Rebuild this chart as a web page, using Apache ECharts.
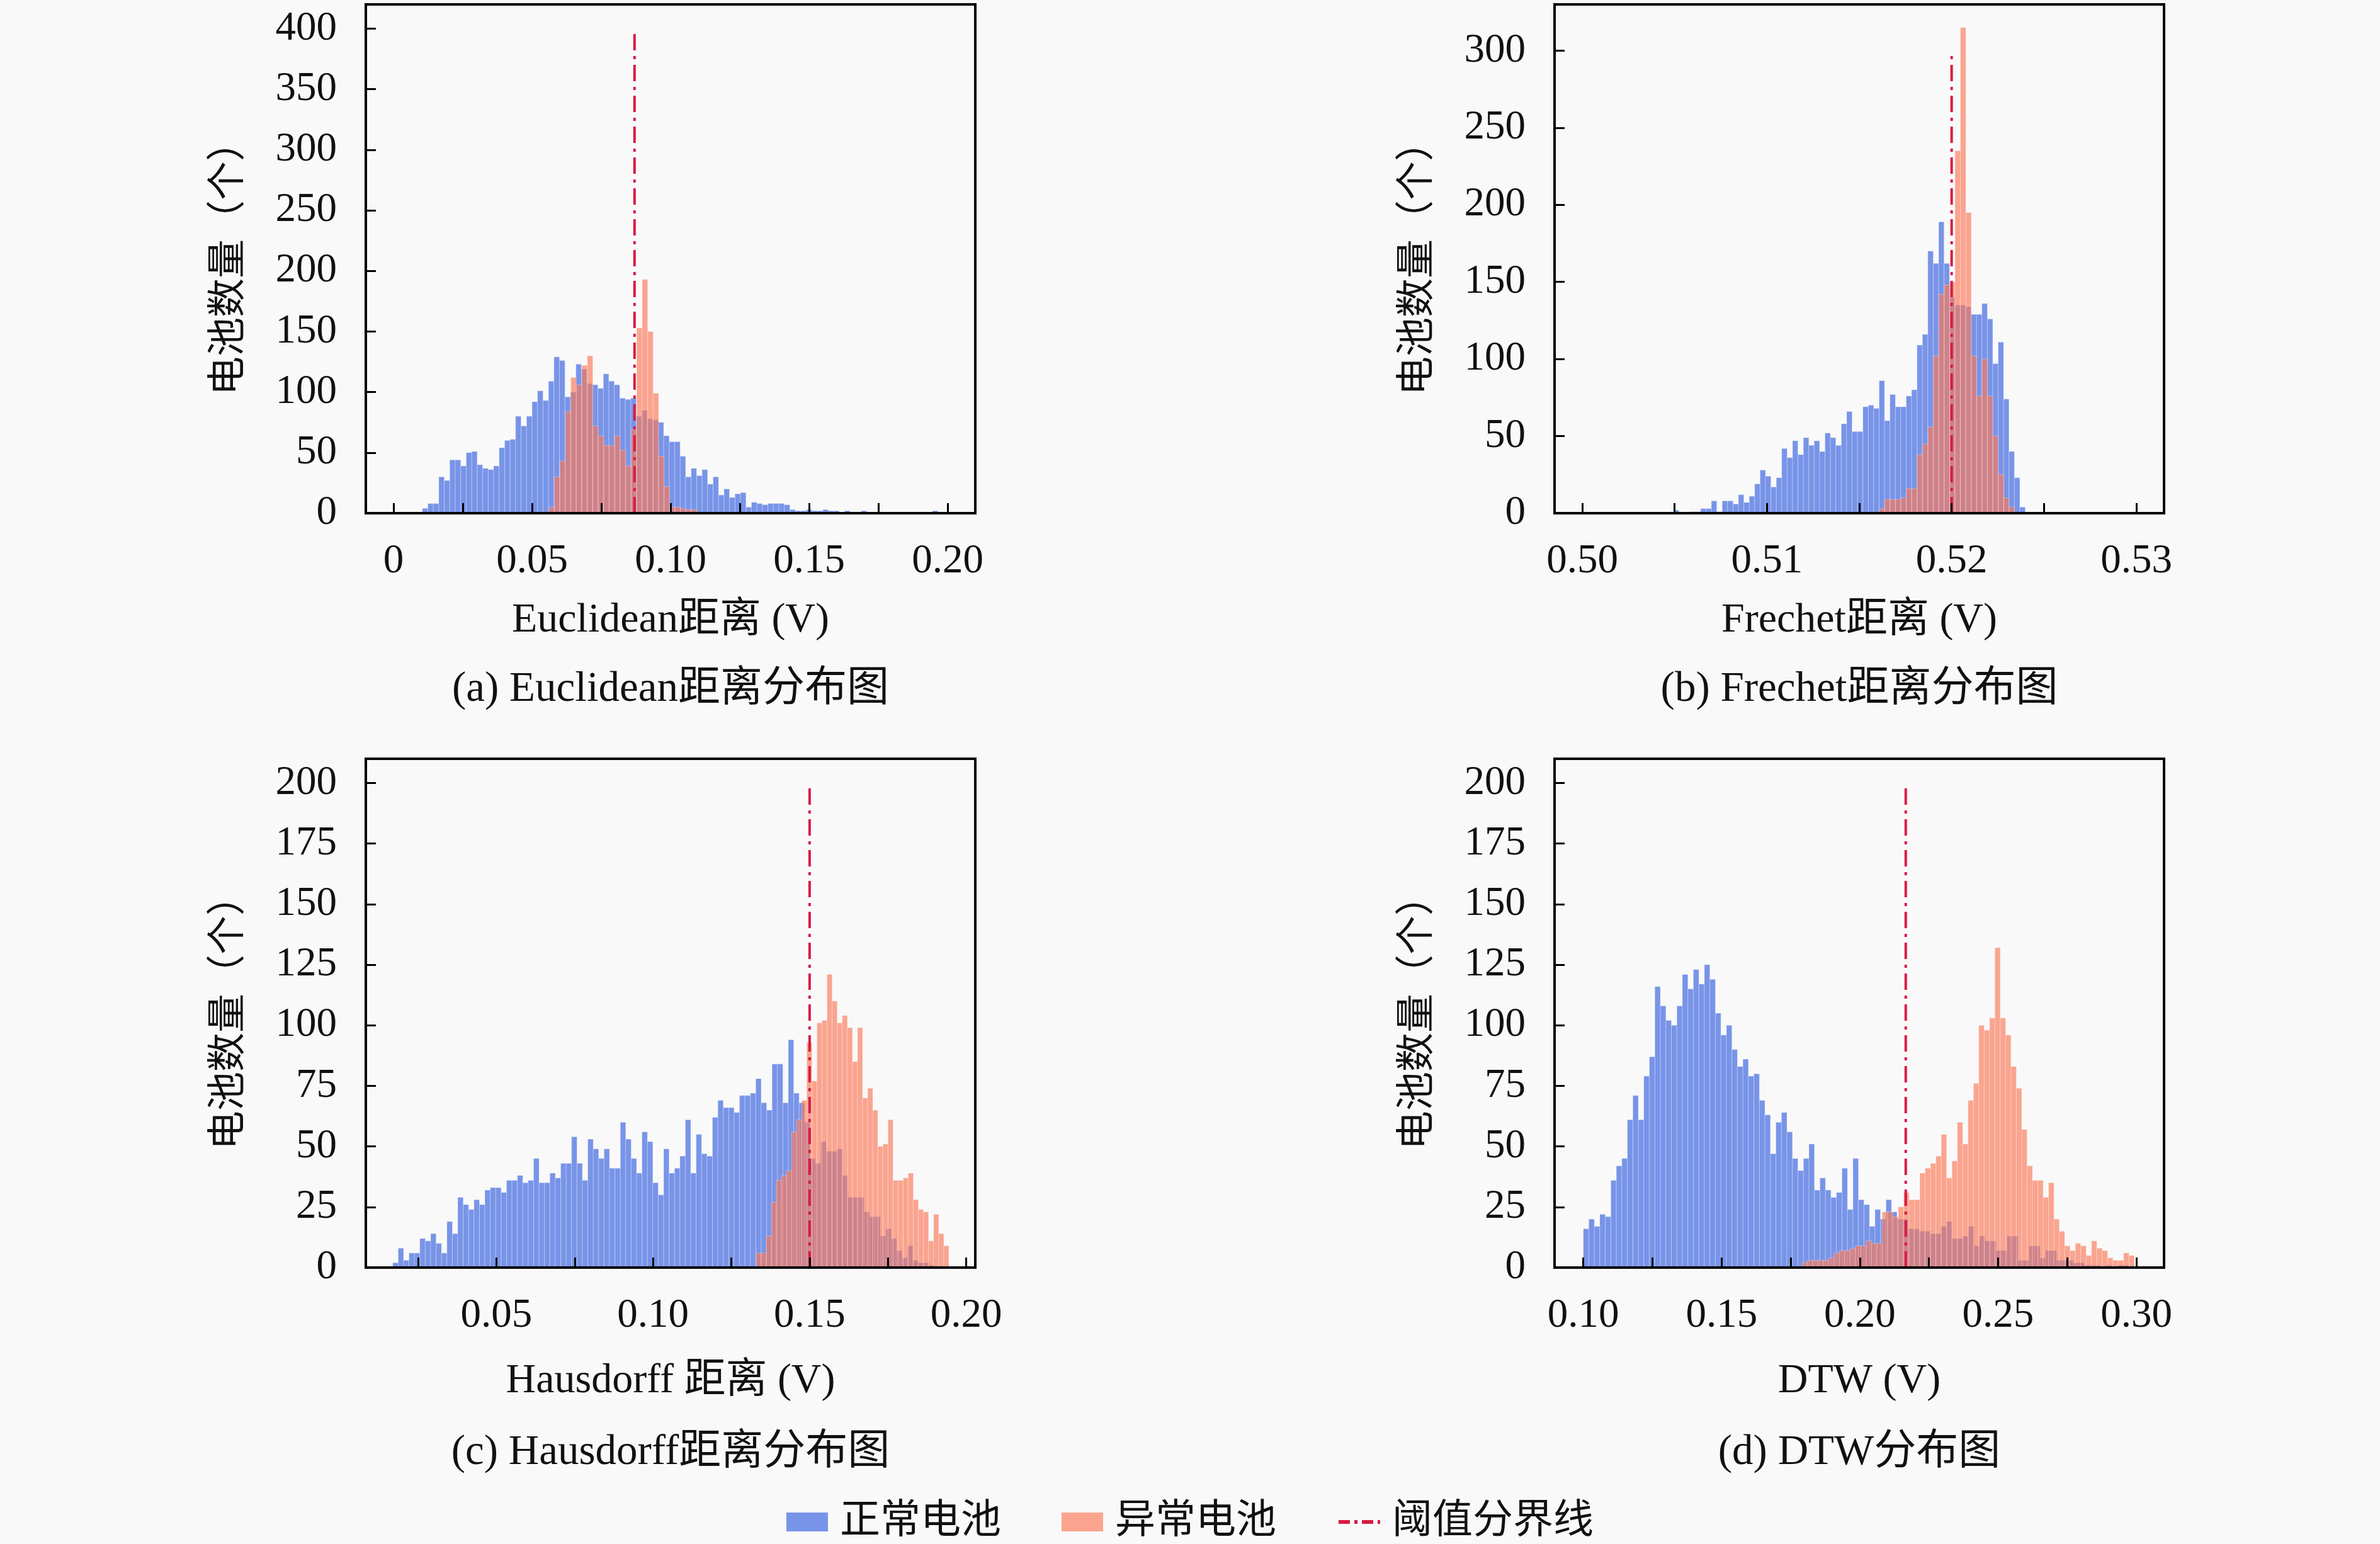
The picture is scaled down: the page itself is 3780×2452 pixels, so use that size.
<!DOCTYPE html>
<html style="height: 100%">
<head>
<meta charset="utf-8">
<script src="https://cdn.jsdelivr.net/npm/echarts@6/dist/echarts.min.js"></script>
</head>
<body style="height: 100%; margin: 0; background: #f9f9f9">
<div id="container" style="width: 3780px; height: 2452px"></div>
<script>

// ---- values ----
var seriesNames = ['正常电池', '异常电池', '阈值分界线'];

// (a) Euclidean
var blueA_start = 0.0104, blueA_width = 0.00198;
var blueA = [4,8,8,30,27,44,44,39,50,51,40,37,36,39,54,60,61,80,72,80,92,101,93,109,129,126,96,100,123,119,
             107,106,103,115,109,106,95,94,95,80,85,78,77,75,64,59,59,47,30,37,31,36,24,30,15,20,13,16,17,5,
             9,8,7,8,8,8,7,3,2,2,3,2,2,3,2,2,1,2,1,1,2,1,1,1,0,1,1,1,0,1,1,0,1,2,1];
var orangeA_start = 0.0561, orangeA_width = 0.00198;
var orangeA = [5,30,43,84,112,106,122,130,72,64,56,56,64,52,39,69,153,193,150,99,47,22,5,5,4,3,3];
var thresholdA = 0.087, thresholdTopA = 400;

// (b) Frechet
var blueB_start = 0.50494, blueB_width = 0.000293;
var blueB = [2,0,0,1,1,3,3,8,1,8,8,6,12,7,11,19,28,24,17,23,42,36,47,38,49,44,47,40,52,49,44,58,66,53,53,
             69,70,68,86,60,77,69,69,76,80,109,116,170,162,189,162,140,135,135,134,129,129,136,126,97,111,74,40,23,4];
var orangeB_start = 0.51608, orangeB_width = 0.000293;
var orangeB = [3,9,9,9,10,16,16,38,45,56,102,142,148,150,235,315,195,102,76,100,76,50,25,10,4];
var thresholdB = 0.520, thresholdTopB = 300;

// (c) Hausdorff
var blueC_start = 0.0169, blueC_width = 0.00173;
var blueC = [2,8,3,6,6,12,11,14,10,6,19,14,29,26,24,28,26,32,33,33,31,36,36,38,35,36,45,35,35,39,37,43,43,54,43,
             36,53,49,45,49,41,41,60,53,45,39,56,52,35,30,49,39,41,46,61,39,55,47,46,62,69,66,66,64,71,71,72,78,
             68,65,84,84,68,94,72,68,60,45,43,52,48,48,49,38,29,29,29,23,21,21,13,16,12,7,4,9,3,2,2,1];
var orangeC_start = 0.1329, orangeC_width = 0.00162;
var orangeC = [6,6,13,27,36,38,40,56,61,69,93,77,101,102,121,110,101,104,99,85,99,70,74,65,50,51,61,36,36,37,
               39,28,24,23,11,22,14,9];
var thresholdC = 0.150, thresholdTopC = 200;

// (d) DTW
var blueD_start = 0.100, blueD_width = 0.00199;
var blueD = [16,20,17,22,21,36,42,45,61,71,61,79,87,116,108,102,100,108,121,115,123,117,125,119,105,96,100,90,83,86,
             79,80,69,63,47,60,64,56,45,40,45,51,32,37,32,29,31,41,24,45,28,26,17,24,20,28,23,20,20,16,16,15,15,
             14,14,17,19,12,12,13,17,9,13,11,11,7,7,13,13,3,3,9,9,4,7,7,3,3,3,2,2,1,1,1,0,1,0,1,1];
var orangeD_start = 0.179, orangeD_width = 0.00194;
var orangeD = [2,3,3,3,3,4,6,7,7,8,9,9,11,10,10,23,23,21,25,31,28,28,39,41,43,46,55,37,44,60,51,69,76,100,98,103,
               132,103,96,83,74,57,42,36,36,29,35,20,15,9,7,10,9,5,11,8,7,4,3,3,6,5];
var thresholdD = 0.2166, thresholdTopD = 200;

// tick positions and labels
var xTicksA = [0, 0.025, 0.05, 0.075, 0.1, 0.125, 0.15, 0.175, 0.2];
var xLabelsA = [0, 0.05, 0.1, 0.15, 0.2];
var xTicksB = [0.5, 0.505, 0.51, 0.515, 0.52, 0.525, 0.53];
var xLabelsB = [0.5, 0.51, 0.52, 0.53];
var xTicksC = [0.025, 0.05, 0.075, 0.1, 0.125, 0.15, 0.175, 0.2];
var xLabelsC = [0.05, 0.1, 0.15, 0.2];
var xTicksD = [0.1, 0.125, 0.15, 0.175, 0.2, 0.225, 0.25, 0.275, 0.3];
var xLabelsD = [0.1, 0.15, 0.2, 0.25, 0.3];
var yTicksA = [0, 50, 100, 150, 200, 250, 300, 350, 400];
var yTicksB = [0, 50, 100, 150, 200, 250, 300];
var yTicksC = [0, 25, 50, 75, 100, 125, 150, 175, 200];
var yTicksD = [0, 25, 50, 75, 100, 125, 150, 175, 200];

var xNames = ['Euclidean距离 (V)', 'Frechet距离 (V)', 'Hausdorff 距离 (V)', 'DTW (V)'];
var captions = ['(a) Euclidean距离分布图', '(b) Frechet距离分布图', '(c) Hausdorff距离分布图', '(d) DTW分布图'];
var yName = '电池数量（个）';

// ---- chart ----
var FONT = "'Liberation Serif', 'Noto Sans CJK SC', serif";
var BLUE = 'rgba(65,105,225,0.7)';
var SALMON = 'rgba(250,120,88,0.66)';
var RED = '#d81b43';

var panels = [
    { left: 581,  top: 7,    xmin: -0.01,  xmax: 0.21,   ymax: 420, xt: xTicksA, xl: xLabelsA, yt: yTicksA, gap: 138, cap: 1088,
      blue: [blueA_start, blueA_width, blueA], orange: [orangeA_start, orangeA_width, orangeA], thr: [thresholdA, thresholdTopA] },
    { left: 2469, top: 7,    xmin: 0.4985, xmax: 0.5315, ymax: 330, xt: xTicksB, xl: xLabelsB, yt: yTicksB, gap: 138, cap: 1088,
      blue: [blueB_start, blueB_width, blueB], orange: [orangeB_start, orangeB_width, orangeB], thr: [thresholdB, thresholdTopB] },
    { left: 581,  top: 1205, xmin: 0.0083, xmax: 0.2029, ymax: 210, xt: xTicksC, xl: xLabelsC, yt: yTicksC, gap: 148, cap: 1102,
      blue: [blueC_start, blueC_width, blueC], orange: [orangeC_start, orangeC_width, orangeC], thr: [thresholdC, thresholdTopC] },
    { left: 2469, top: 1205, xmin: 0.0896, xmax: 0.31,   ymax: 210, xt: xTicksD, xl: xLabelsD, yt: yTicksD, gap: 148, cap: 1102,
      blue: [blueD_start, blueD_width, blueD], orange: [orangeD_start, orangeD_width, orangeD], thr: [thresholdD, thresholdTopD] }
];

function histData(start, width, counts) {
    return counts.map(function (c, i) {
        return [start + i * width, start + (i + 1) * width, c];
    });
}

function histRender(color) {
    return function (params, api) {
        var p0 = api.coord([api.value(0), 0]);
        var p1 = api.coord([api.value(1), api.value(2)]);
        return {
            type: 'rect',
            shape: { x: p0[0], y: p1[1], width: p1[0] - p0[0], height: p0[1] - p1[1] },
            style: { fill: color, stroke: 'rgba(255,255,255,0.3)', lineWidth: 1 }
        };
    };
}

function fmt(v) {
    return v === 0 ? '0' : v.toFixed(2);
}

var grids = [], xAxes = [], yAxes = [], series = [], graphics = [];

panels.forEach(function (p, k) {
    grids.push({
        left: p.left, top: p.top, width: 968, height: 808,
        show: true, borderColor: '#000', borderWidth: 4, backgroundColor: 'transparent'
    });
    xAxes.push({
        type: 'value', gridIndex: k, min: p.xmin, max: p.xmax, z: 5,
        name: xNames[k], nameLocation: 'middle', nameGap: p.gap,
        nameTextStyle: { fontFamily: FONT, fontSize: 66, color: '#111' },
        axisLine: { show: true, onZero: false, lineStyle: { color: '#000', width: 4 } },
        axisTick: { show: true, inside: true, length: 16, customValues: p.xt, lineStyle: { color: '#000', width: 3 } },
        axisLabel: { show: true, customValues: p.xl, formatter: fmt, margin: 44,
                     fontFamily: FONT, fontSize: 65, color: '#111' },
        splitLine: { show: false }
    });
    yAxes.push({
        type: 'value', gridIndex: k, min: 0, max: p.ymax, z: 5,
        name: yName, nameLocation: 'middle', nameGap: 184, nameRotate: 90,
        nameTextStyle: { fontFamily: FONT, fontSize: 62, color: '#111' },
        axisLine: { show: true, onZero: false, lineStyle: { color: '#000', width: 4 } },
        axisTick: { show: true, inside: true, length: 16, customValues: p.yt, lineStyle: { color: '#000', width: 3 } },
        axisLabel: { show: true, customValues: p.yt, margin: 46,
                     fontFamily: FONT, fontSize: 65, color: '#111' },
        splitLine: { show: false }
    });
    series.push({
        name: seriesNames[0], type: 'custom', xAxisIndex: k, yAxisIndex: k, clip: true,
        itemStyle: { color: BLUE },
        encode: { x: [0, 1], y: 2 },
        renderItem: histRender(BLUE),
        data: histData(p.blue[0], p.blue[1], p.blue[2])
    });
    series.push({
        name: seriesNames[1], type: 'custom', xAxisIndex: k, yAxisIndex: k, clip: true,
        itemStyle: { color: SALMON },
        encode: { x: [0, 1], y: 2 },
        renderItem: histRender(SALMON),
        data: histData(p.orange[0], p.orange[1], p.orange[2])
    });
    series.push({
        name: seriesNames[2], type: 'line', xAxisIndex: k, yAxisIndex: k, z: 4,
        symbol: 'none', silent: true,
        itemStyle: { color: RED },
        lineStyle: { color: RED, width: 4, type: [26, 9, 5, 9] },
        data: [[p.thr[0], 0], [p.thr[0], p.thr[1]]]
    });
    graphics.push({
        type: 'text', x: p.left + 484, y: p.top + p.cap,
        style: { text: captions[k], align: 'center', verticalAlign: 'middle',
                 font: '67px ' + FONT, fill: '#111' }
    });
});

var dom = document.getElementById('container');
var myChart = echarts.init(dom, null, { renderer: 'canvas' });

var option = {
    backgroundColor: '#f9f9f9',
    animation: false,
    grid: grids,
    xAxis: xAxes,
    yAxis: yAxes,
    series: series,
    graphic: graphics,
    legend: {
        left: 'center', top: 2380,
        selectedMode: false,
        itemWidth: 66, itemHeight: 30, itemGap: 96,
        textStyle: { fontFamily: FONT, fontSize: 64, color: '#111', padding: [0, 0, 0, 14] },
        data: [
            { name: seriesNames[0], icon: 'rect' },
            { name: seriesNames[1], icon: 'rect' },
            { name: seriesNames[2], itemStyle: { color: 'rgba(0,0,0,0)', borderWidth: 0 },
              lineStyle: { color: RED, width: 6, type: [18, 7, 5, 7] } }
        ]
    }
};

myChart.setOption(option);

</script>
</body>
</html>
